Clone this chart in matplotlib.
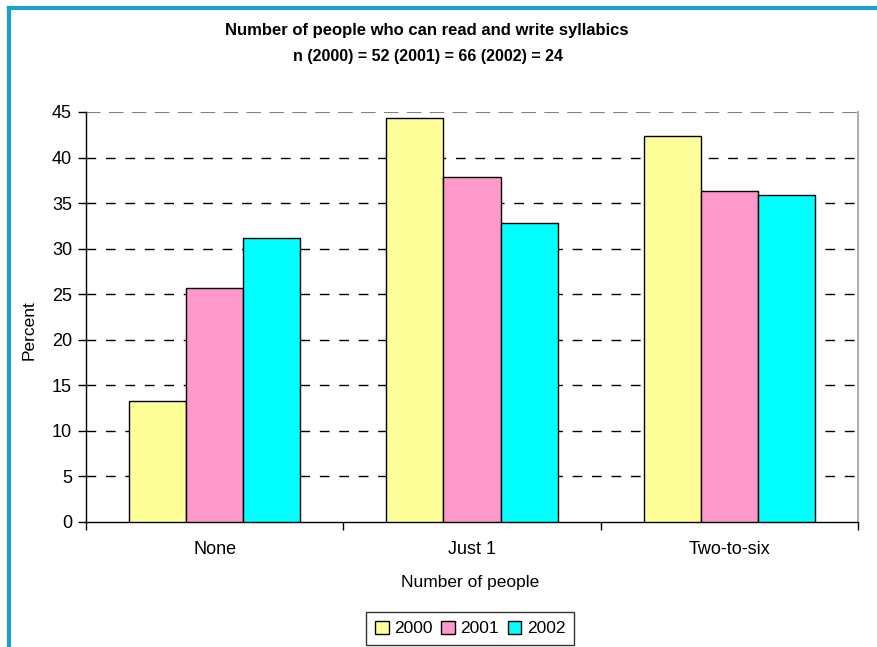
import matplotlib.pyplot as plt
from matplotlib.lines import Line2D
import numpy as np

plt.rcParams["font.family"] = ["Liberation Sans", "DejaVu Sans"]

categories = ["None", "Just 1", "Two-to-six"]
years = ["2000", "2001", "2002"]
pct_2000 = [13.3, 44.3, 42.4]
pct_2001 = [25.7, 37.9, 36.3]
pct_2002 = [31.2, 32.8, 35.9]
colors = ["#ffff99", "#ff99cc", "#00ffff"]
y_ticks = [0, 5, 10, 15, 20, 25, 30, 35, 40, 45]

W, H = 877, 647
fig = plt.figure(figsize=(W / 100, H / 100), dpi=100)
ax = fig.add_axes([86 / W, 1 - 522 / H, (858 - 86) / W, (522 - 112) / H])

x = np.arange(len(categories))
bw = 0.222
for i, (vals, col, lab) in enumerate(zip([pct_2000, pct_2001, pct_2002], colors, years)):
    ax.bar(x + (i - 1) * bw, vals, bw, color=col, edgecolor="black", linewidth=1.0,
           label=lab, zorder=3)

ax.set_xlim(-0.5, 2.5)
ax.set_ylim(0, 45)
ax.set_yticks(y_ticks)
ax.set_yticklabels([str(t) for t in y_ticks], fontsize=13)
ax.tick_params(axis="y", direction="out", length=6, width=1, pad=4)

# category labels sit between the boundary ticks
ax.set_xticks([-0.5, 0.5, 1.5, 2.5])
ax.set_xticklabels([])
ax.tick_params(axis="x", direction="out", length=6, width=1)
for xi, c in zip(x, categories):
    ax.text(xi, -3.0, c, ha="center", va="center", fontsize=13)

for t in y_ticks[1:-1]:
    ax.axhline(t, color="black", linestyle=(0, (7, 7)), linewidth=1.0, zorder=1)
ax.axhline(45, color="#808080", linestyle=(0, (7, 4)), linewidth=1.5, zorder=1)

ax.spines["top"].set_visible(False)
ax.spines["right"].set_color("#b0b0b0")
ax.spines["right"].set_linewidth(1.5)
ax.spines["left"].set_linewidth(1.0)
ax.spines["bottom"].set_linewidth(1.0)

fig.text(427 / W, 1 - 30 / H, "Number of people who can read and write syllabics",
         ha="center", va="center", fontsize=12, fontweight="bold")
fig.text(428 / W, 1 - 57 / H, "n (2000) = 52 (2001) = 66 (2002) = 24",
         ha="center", va="center", fontsize=11.5, fontweight="bold")

fig.text(470 / W, 1 - 583 / H, "Number of people", ha="center", va="center", fontsize=12.5)
fig.text(29 / W, 1 - 330 / H, "Percent", ha="center", va="center", fontsize=12.5,
         rotation=90)

leg = fig.legend(loc="upper center", bbox_to_anchor=(470 / W, 1 - 612 / H), ncol=3,
                 fontsize=12.5, frameon=True, fancybox=False, edgecolor="black",
                 handlelength=0.8, handleheight=0.8, handletextpad=0.3,
                 columnspacing=0.5, borderpad=0.5, borderaxespad=0)
leg.get_frame().set_linewidth(1.0)

# outer blue frame
fig.add_artist(Line2D([9 / W, 9 / W], [0, 1 - 8 / H], color="#1a9fd0", linewidth=3))
fig.add_artist(Line2D([9 / W, 1], [1 - 8 / H, 1 - 8 / H], color="#1a9fd0", linewidth=3))

fig.savefig("out.png", dpi=100)
